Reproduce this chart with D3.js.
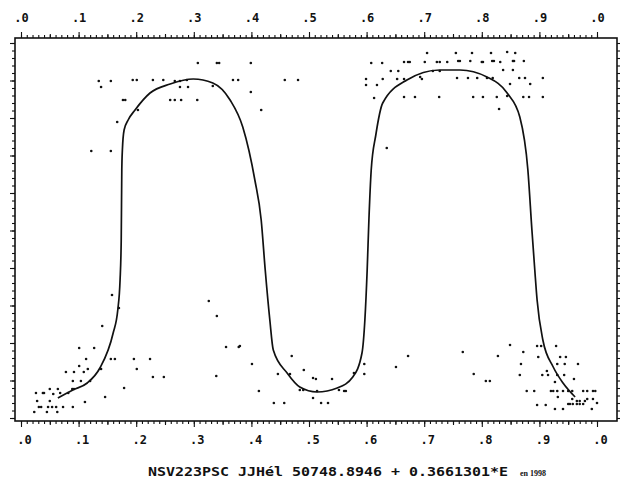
<!DOCTYPE html>
<html>
<head>
<meta charset="utf-8">
<script src="https://cdn.jsdelivr.net/npm/d3@7"></script>
<style>
  html, body { margin: 0; padding: 0; background: #fff; }
  svg { display: block; }
</style>
</head>
<body>
<script>
// ---- Data ----
const tickPhases = [0, 0.1, 0.2, 0.3, 0.4, 0.5, 0.6, 0.7, 0.8, 0.9, 1.0];
const tickLabels = [".0", ".1", ".2", ".3", ".4", ".5", ".6", ".7", ".8", ".9", ".0"];

const pointPhase = [
  0.307,0.340,0.344,0.399,0.135,0.156,0.194,0.201,0.229,0.247,0.267,0.276,0.288,0.368,0.377,0.458,0.481,
  0.139,0.276,0.290,0.333,0.399,0.177,0.181,0.259,0.267,0.278,0.306,0.203,0.417,0.167,0.122,0.156,
  0.705,0.755,0.783,0.816,0.844,0.858,0.608,0.627,0.665,0.672,0.675,0.701,0.722,0.727,0.740,0.759,0.762,
  0.780,0.800,0.802,0.818,0.821,0.832,0.854,0.856,0.873,0.642,0.655,0.837,0.854,0.599,0.628,0.653,0.665,
  0.693,0.696,0.715,0.727,0.757,0.776,0.792,0.809,0.819,0.865,0.875,0.906,0.599,0.618,0.849,0.884,0.613,
  0.665,0.684,0.726,0.785,0.802,0.826,0.844,0.872,0.882,0.906,0.830,0.635,
  0.158,0.141,0.170,0.101,0.127,0.113,0.156,0.163,0.196,0.224,0.101,0.116,0.139,0.078,0.092,0.109,0.201,
  0.090,0.104,0.120,0.229,0.248,0.179,0.089,0.092,0.050,0.064,0.026,0.038,0.040,0.056,0.068,0.082,0.146,
  0.028,0.050,0.111,0.031,0.035,0.047,0.054,0.061,0.073,0.090,0.023,0.045,0.063,0.326,0.340,0.356,0.378,
  0.339,0.401,0.413,
  0.380,0.470,0.491,0.446,0.467,0.507,0.512,0.540,0.578,0.596,0.596,0.484,0.490,0.514,0.552,0.561,0.564,
  0.507,0.439,0.457,0.521,0.533,0.651,0.672,
  0.767,0.849,0.828,0.896,0.903,0.929,0.872,0.898,0.936,0.946,0.868,0.931,0.944,0.967,0.913,0.786,0.866,
  0.905,0.915,0.931,0.943,0.807,0.814,0.927,0.960,0.878,0.891,0.920,0.924,0.931,0.941,0.950,0.957,0.976,
  0.983,0.993,0.997,0.932,0.957,0.965,0.970,0.979,0.983,0.993,0.896,0.911,0.950,0.953,0.958,0.965,0.970,
  0.976,1.000,0.927,0.941,0.991
];
const pointMag = [
  12.25,12.25,12.25,12.25,12.43,12.43,12.42,12.42,12.42,12.42,12.43,12.43,12.42,12.42,12.42,12.42,12.42,
  12.49,12.49,12.49,12.48,12.54,12.62,12.62,12.62,12.62,12.62,12.62,12.72,12.72,12.84,13.13,13.13,
  12.15,12.15,12.15,12.15,12.14,12.15,12.25,12.25,12.24,12.24,12.24,12.24,12.24,12.24,12.24,12.23,12.23,
  12.23,12.24,12.24,12.23,12.23,12.24,12.23,12.23,12.23,12.33,12.33,12.32,12.32,12.41,12.41,12.41,12.41,
  12.39,12.41,12.33,12.33,12.40,12.40,12.40,12.40,12.40,12.40,12.40,12.40,12.47,12.47,12.46,12.46,12.60,
  12.59,12.59,12.59,12.59,12.59,12.59,12.58,12.59,12.59,12.59,12.71,13.10,
  14.57,14.88,14.70,15.10,15.10,15.21,15.21,15.21,15.21,15.21,15.28,15.31,15.31,15.34,15.34,15.34,15.31,
  15.43,15.43,15.43,15.39,15.39,15.50,15.51,15.51,15.51,15.51,15.55,15.55,15.55,15.56,15.55,15.55,15.59,
  15.63,15.63,15.64,15.69,15.69,15.69,15.69,15.69,15.69,15.69,15.74,15.74,15.74,14.63,14.78,15.09,15.09,
  15.38,15.26,15.53,
  15.08,15.18,15.32,15.36,15.36,15.40,15.41,15.41,15.35,15.26,15.36,15.52,15.52,15.53,15.52,15.53,15.53,
  15.60,15.65,15.65,15.65,15.65,15.29,15.18,
  15.14,15.07,15.18,15.08,15.08,15.08,15.14,15.19,15.19,15.19,15.26,15.26,15.26,15.26,15.33,15.36,15.37,
  15.37,15.37,15.37,15.37,15.43,15.43,15.44,15.41,15.53,15.53,15.53,15.53,15.53,15.53,15.53,15.53,15.53,
  15.53,15.53,15.53,15.59,15.61,15.63,15.63,15.63,15.61,15.61,15.67,15.67,15.66,15.66,15.66,15.66,15.66,
  15.66,15.65,15.71,15.71,15.71
];

const curvePhase = [
  0.064,0.090,0.115,0.137,0.160,0.168,0.172,0.174,0.175,0.176,0.179,0.186,0.198,0.224,0.259,0.299,0.333,
  0.363,0.385,0.406,0.417,0.424,0.432,0.438,0.462,0.484,0.514,0.549,0.576,0.592,0.597,0.601,0.604,0.608,
  0.616,0.628,0.670,0.727,0.762,0.809,0.844,0.866,0.880,0.887,0.892,0.896,0.906,0.924,0.941,0.962
];
const curveMag = [
  15.60,15.52,15.45,15.30,14.95,14.72,14.42,14.02,13.32,13.12,12.92,12.82,12.72,12.55,12.46,12.41,12.45,
  12.62,12.89,13.42,13.82,14.32,14.82,15.12,15.35,15.49,15.54,15.50,15.39,15.15,14.82,14.32,13.82,13.32,
  12.97,12.65,12.42,12.32,12.32,12.39,12.55,12.79,13.32,13.92,14.32,14.62,15.02,15.29,15.45,15.59
];

const titleText = "NSV223PSC JJHél 50748.8946 + 0.3661301*E";
const noteText = "en 1998";

// ---- Layout ----
const W = 632, H = 486;
const frame = { left: 15, right: 617, top: 38, bottom: 421 };
const monoFont = "'DejaVu Sans Mono', 'Liberation Mono', monospace";

const svg = d3.select("body").append("svg")
  .attr("width", W).attr("height", H);

const x = d3.scaleLinear().domain([0, 1]).range([21, 597]);
const y = d3.scaleLinear().domain([12.0, 15.83]).range([frame.top, frame.bottom]);

// frame
svg.append("rect")
  .attr("x", frame.left).attr("y", frame.top)
  .attr("width", frame.right - frame.left).attr("height", frame.bottom - frame.top)
  .attr("fill", "none").attr("stroke", "#111").attr("stroke-width", 1.6);

function styleAxis(g) {
  g.select(".domain").remove();
  g.selectAll(".tick line").attr("stroke", "#111").attr("stroke-width", 1.1);
  g.selectAll(".tick text")
    .attr("font-family", monoFont).attr("font-weight", "bold")
    .attr("font-size", 12).attr("fill", "#111");
}

const minor = d3.range(0, 100.5, 1).map(d => d / 100);
const mid = d3.range(5, 100, 10).map(d => d / 100);

// top axis
svg.append("g").attr("transform", `translate(0,${frame.top})`)
  .call(d3.axisTop(x).tickValues(minor).tickSize(3).tickSizeOuter(0).tickFormat(""))
  .call(styleAxis);
svg.append("g").attr("transform", `translate(0,${frame.top})`)
  .call(d3.axisTop(x).tickValues(mid).tickSize(4).tickSizeOuter(0).tickFormat(""))
  .call(styleAxis);
svg.append("g").attr("transform", `translate(0,${frame.top})`)
  .call(d3.axisTop(x).tickValues(tickPhases).tickSize(6).tickSizeOuter(0).tickPadding(10)
    .tickFormat((d, i) => tickLabels[i]))
  .call(styleAxis);

// bottom axis
svg.append("g").attr("transform", `translate(0,${frame.bottom})`)
  .call(d3.axisBottom(x).tickValues(minor).tickSize(3).tickSizeOuter(0).tickFormat(""))
  .call(styleAxis);
svg.append("g").attr("transform", `translate(0,${frame.bottom})`)
  .call(d3.axisBottom(x).tickValues(mid).tickSize(4).tickSizeOuter(0).tickFormat(""))
  .call(styleAxis);
svg.append("g").attr("transform", `translate(3,${frame.bottom})`)
  .call(d3.axisBottom(x).tickValues(tickPhases).tickSize(6).tickSizeOuter(0).tickPadding(8)
    .tickFormat((d, i) => tickLabels[i]))
  .call(styleAxis)
  .call(g => g.selectAll(".tick line").attr("transform", "translate(-3,0)"));

// left / right axes (no labels)
const yTicks = d3.range(0, 51).map(i => 12.05 + i * 0.075);
const yMajor = yTicks.filter((d, i) => i % 5 === 0);
svg.append("g").attr("transform", `translate(${frame.left},0)`)
  .call(d3.axisLeft(y).tickValues(yTicks).tickSize(3).tickSizeOuter(0).tickFormat(""))
  .call(styleAxis);
svg.append("g").attr("transform", `translate(${frame.left},0)`)
  .call(d3.axisLeft(y).tickValues(yMajor).tickSize(5).tickSizeOuter(0).tickFormat(""))
  .call(styleAxis);
svg.append("g").attr("transform", `translate(${frame.right},0)`)
  .call(d3.axisRight(y).tickValues(yTicks).tickSize(3).tickSizeOuter(0).tickFormat(""))
  .call(styleAxis);

// observations
const points = pointPhase.map((p, i) => ({ p, m: pointMag[i] }));
svg.append("g").selectAll("circle").data(points).join("circle")
  .attr("cx", d => x(d.p)).attr("cy", d => y(d.m))
  .attr("r", 1.3).attr("fill", "#111");

// fitted curve
const curve = curvePhase.map((p, i) => ({ p, m: curveMag[i] }));
svg.append("path").datum(curve)
  .attr("d", d3.line().x(d => x(d.p)).y(d => y(d.m)).curve(d3.curveMonotoneX))
  .attr("fill", "none").attr("stroke", "#111").attr("stroke-width", 1.7);

// caption
svg.append("text")
  .attr("x", 148).attr("y", 476)
  .attr("font-family", monoFont).attr("font-weight", "bold").attr("font-size", 12)
  .attr("textLength", 360).attr("lengthAdjust", "spacingAndGlyphs")
  .attr("fill", "#111")
  .text(titleText);
svg.append("text")
  .attr("x", 520).attr("y", 476)
  .attr("font-family", "'Liberation Serif', serif").attr("font-weight", "bold").attr("font-size", 8)
  .attr("fill", "#111")
  .text(noteText);
</script>
</body>
</html>
